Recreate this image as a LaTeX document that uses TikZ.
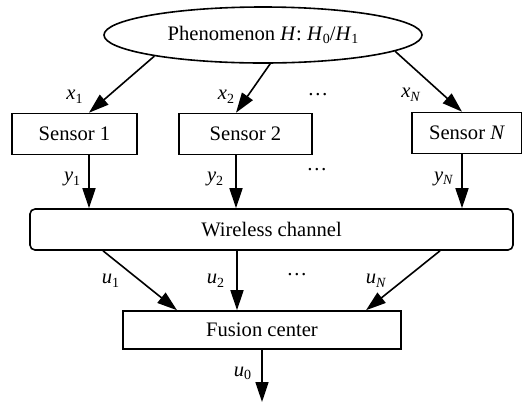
\documentclass[tikz,border=0pt]{standalone}
\usepackage{fontspec}
\setmainfont{Liberation Serif}
\usepackage{tikz}
\usetikzlibrary{arrows.meta,shapes.geometric}

\newcommand{\sub}[2]{\textit{#1}\raisebox{-0.4ex}{\fontsize{7}{8}\selectfont #2}}

\begin{document}
\begin{tikzpicture}[x=0.5pt,y=-0.5pt,>={Triangle[length=10pt,width=6.5pt]},
  line width=0.8pt,font=\fontsize{10.3}{12}\selectfont,
  box/.style={draw,inner sep=0pt,minimum height=20.5pt},
  lbl/.style={inner sep=0pt}]
\useasboundingbox (0,0) rectangle (522,403);
% top: the observed phenomenon
\node[draw,ellipse,inner sep=0pt,minimum width=159pt,minimum height=28pt] (phen) at (263,35) {Phenomenon \textit{H}: \sub{H}{0}/\sub{H}{1}};
\node[box,minimum width=62.5pt] (s1) at (74.5,134) {Sensor 1};
\node[box,minimum width=66.5pt] (s2) at (245.5,134) {Sensor 2};
\node[box,minimum width=55pt] (sN) at (467,133) {Sensor \textit{N}};
\node[box,rounded corners=2.5pt,minimum width=241.5pt] (chan) at (271.5,229.5) {Wireless channel};
\node[box,minimum width=139pt,minimum height=19pt] (fus) at (262,330) {Fusion center};
\coordinate (c1) at (89,0);
\coordinate (c2) at (236,0);
\coordinate (cN) at (462,0);
\coordinate (out) at (262,402);
\node[lbl] (dx) at (318,95) {\dots};
\node[lbl] (dy) at (317,170) {\dots};
\node[lbl] (du) at (297,275) {\dots};
% observations
\draw[->] (phen.-169) -- node[lbl,pos=0.72,left=12pt]{\sub{x}{1}} (s1.north -| c1);
\draw[->] (phen.-76) -- node[lbl,pos=0.68,left=6pt]{\sub{x}{2}} (s2.north -| c2);
\draw[->] (phen.-7.5) -- node[lbl,pos=0.72,left=11pt]{\sub{x}{\textit{N}}} (sN.north -| cN);
% local decisions
\draw[->] (s1.south -| c1) -- node[lbl,pos=0.45,left=4pt]{\sub{y}{1}} (chan.north -| c1);
\draw[->] (s2.south -| c2) -- node[lbl,pos=0.45,left=6pt]{\sub{y}{2}} (chan.north -| c2);
\draw[->] (sN.south -| cN) -- node[lbl,pos=0.45,left=4pt]{\sub{y}{\textit{N}}} (chan.north -| cN);
% received at the fusion center
\coordinate (a1) at (103,0);
\coordinate (b1) at (177,0);
\coordinate (a2) at (237,0);
\coordinate (aN) at (440,0);
\coordinate (bN) at (366,0);
\draw[->] (chan.south -| a1) -- node[lbl,pos=0.5,left=10pt]{\sub{u}{1}} (fus.north -| b1);
\draw[->] (chan.south -| a2) -- node[lbl,pos=0.5,left=6pt]{\sub{u}{2}} (fus.north -| a2);
\draw[->] (chan.south -| aN) -- node[lbl,pos=0.5,left=8pt]{\sub{u}{\textit{N}}} (fus.north -| bN);
\draw[->] (fus.south -| out) -- node[lbl,pos=0.45,left=5pt]{\sub{u}{0}} (out);
\end{tikzpicture}
\end{document}
